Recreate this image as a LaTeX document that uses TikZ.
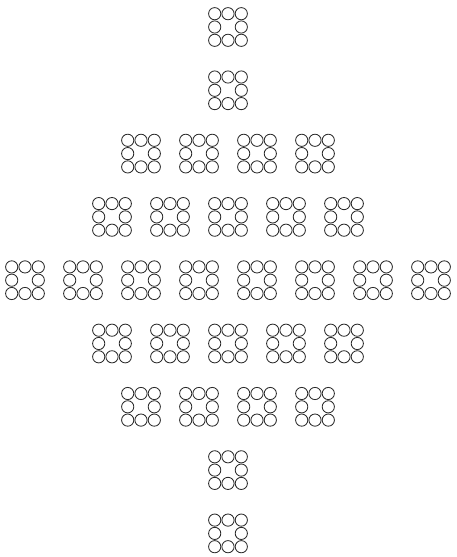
\documentclass[tikz,border=0pt]{standalone}
\definecolor{ringgray}{HTML}{2A2A2A}
\usetikzlibrary{calc}
\tikzset{
  ring/.style={draw=ringgray,line width=0.85pt},
  pics/ringblock/.style={code={
    \foreach \dx/\dy in {-1/-1,0/-1,1/-1,-1/0,1/0,-1/1,0/1,1/1}
      \draw[ring] (\dx*13.3,\dy*13.3) circle (6.1pt);
  }}
}

\begin{document}
\begin{tikzpicture}[x=1pt,y=-1pt]
\useasboundingbox (0,0) rectangle (456,557);
% rows of blocks: row index / number of blocks
\foreach \row/\n in {0/1,1/1,2/4,3/5,4/8,5/5,6/4,7/1,8/1}{
  \foreach \k in {1,...,\n}{
    \pic at ({228+(\k-(\n+1)/2)*58},{27+\row*63.3}) {ringblock};
  }
}
\end{tikzpicture}
\end{document}
